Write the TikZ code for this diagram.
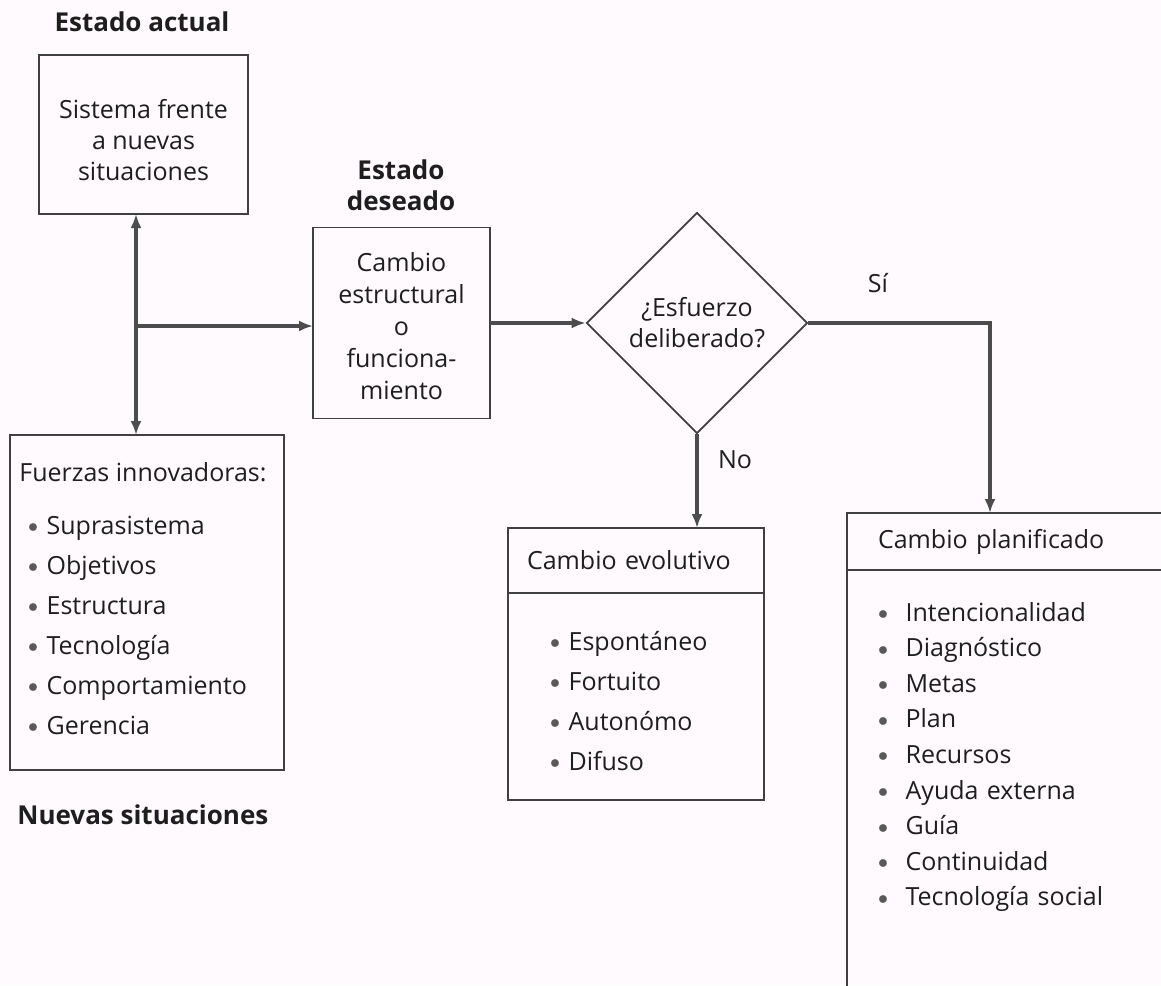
\documentclass[tikz,border=0pt]{standalone}
\usepackage{fontspec}
\setmainfont{Open Sans}
\usetikzlibrary{shapes.geometric}
\usetikzlibrary{arrows.meta}
\usetikzlibrary{positioning}
\definecolor{papel}{RGB}{254,250,254}
\definecolor{tinta}{RGB}{30,30,30}
\newcommand{\bala}[1][4.5pt]{\makebox[4.6pt]{\raisebox{0.8pt}{\textcolor{black!65}{\fontsize{10}{12}\selectfont$\bullet$}}}\hspace{#1}}

\begin{document}
\begin{tikzpicture}[x=0.5pt,y=-0.5pt,node distance=20pt,>={Latex[length=7pt,width=5.5pt]},
  every node/.style={font=\fontsize{12.5}{15.5}\selectfont,text=tinta},
  caja/.style={draw=black!75,line width=0.9pt,rectangle,inner sep=0pt,outer sep=0pt,align=center},
  titulo/.style={font=\fontsize{13}{15.5}\selectfont\bfseries,align=center},
  item/.style={inner sep=0pt,text width=115pt,align=left,text height=10pt,text depth=2pt},
  conn/.style={draw=black!70,line width=2.2pt}]
  \path[use as bounding box,fill=papel] (0,0) rectangle (1161,985);
  \clip (0,0) rectangle (1161,985);

  \node[titulo] (actual) at (142,22) {Estado actual};
  \node[caja,minimum width=104.5pt,minimum height=79.5pt] (sistema) at (143.5,134.5) {\rule{0pt}{15pt}Sistema frente\\a nuevas\\situaciones};

  \node[titulo] (deseado) at (401,185) {Estado\\deseado};
  \node[caja,minimum width=88.5pt,minimum height=95.5pt,font=\fontsize{12.5}{16}\selectfont] (cambio) at (401.5,323) {\rule{0pt}{13pt}Cambio\\estructural\\o\\funciona-\\miento};
  \node[draw=black!75,line width=0.9pt,diamond,minimum width=110.5pt,minimum height=110.5pt,inner sep=0pt,align=center] (esfuerzo) at (697,323) {¿Esfuerzo\\deliberado?};

  \node[caja,minimum width=137pt,minimum height=167.5pt] (fuerzas) at (147,602.5) {};
  \node[anchor=west,inner sep=0pt] (fuerzastit) at (19,472) {Fuerzas innovadoras:};
  \node[item,anchor=west] (f1) at (28,526) {\bala Suprasistema};
  \node[item,below of=f1] (f2) {\bala Objetivos};
  \node[item,below of=f2] (f3) {\bala Estructura};
  \node[item,below of=f3] (f4) {\bala Tecnología};
  \node[item,below of=f4] (f5) {\bala Comportamiento};
  \node[item,below of=f5] (f6) {\bala Gerencia};
  \node[titulo,anchor=west,inner sep=0pt] (nuevas) at (17,815) {Nuevas situaciones};

  \node[caja,minimum height=32.5pt,inner xsep=9.5pt,text width=109pt,align=left] (evolhead) at (636,560.5) {Cambio evolutivo};
  \node[caja,minimum width=128pt,minimum height=103.5pt,below=0pt of evolhead] (evolbody) {};
  \node[item,anchor=west] (e1) at (550,642) {\bala Espontáneo};
  \node[item,below of=e1] (e2) {\bala Fortuito};
  \node[item,below of=e2] (e3) {\bala Autonómo};
  \node[item,below of=e3] (e4) {\bala Difuso};

  \node[caja,minimum height=28.5pt,inner xsep=15.5pt,text width=150pt,align=left] (planhead) at (1028,541.5) {Cambio planificado};
  \node[caja,minimum width=181pt,minimum height=220pt,below=0pt of planhead] (planbody) {};
  \node[item,anchor=west] (p1) at (878,613) {\bala[9pt]Intencionalidad};
  \node[item,node distance=17.8pt,below of=p1] (p2) {\bala[9pt]Diagnóstico};
  \node[item,node distance=17.8pt,below of=p2] (p3) {\bala[9pt]Metas};
  \node[item,node distance=17.8pt,below of=p3] (p4) {\bala[9pt]Plan};
  \node[item,node distance=17.8pt,below of=p4] (p5) {\bala[9pt]Recursos};
  \node[item,node distance=17.8pt,below of=p5] (p6) {\bala[9pt]Ayuda externa};
  \node[item,node distance=17.8pt,below of=p6] (p7) {\bala[9pt]Guía};
  \node[item,node distance=17.8pt,below of=p7] (p8) {\bala[9pt]Continuidad};
  \node[item,node distance=17.8pt,below of=p8] (p9) {\bala[9pt]Tecnología social};

  \node[inner sep=0pt] (si) at (878,283) {Sí};
  \node[inner sep=0pt] (no) at (735,460) {No};

  \coordinate (cruce) at (136,326);
  \coordinate (bajada) at (990,513);
  \draw[conn,<->] (cruce |- sistema.south) -- (cruce |- fuerzas.north);
  \draw[conn,->] (cruce) -- (cruce -| cambio.west);
  \draw[conn,->] (cambio.east) -- (esfuerzo.west);
  \draw[conn,->] (esfuerzo.east) -| (bajada);
  \draw[conn,->] (esfuerzo.south) -- (esfuerzo.south |- evolhead.north);
\end{tikzpicture}
\end{document}
